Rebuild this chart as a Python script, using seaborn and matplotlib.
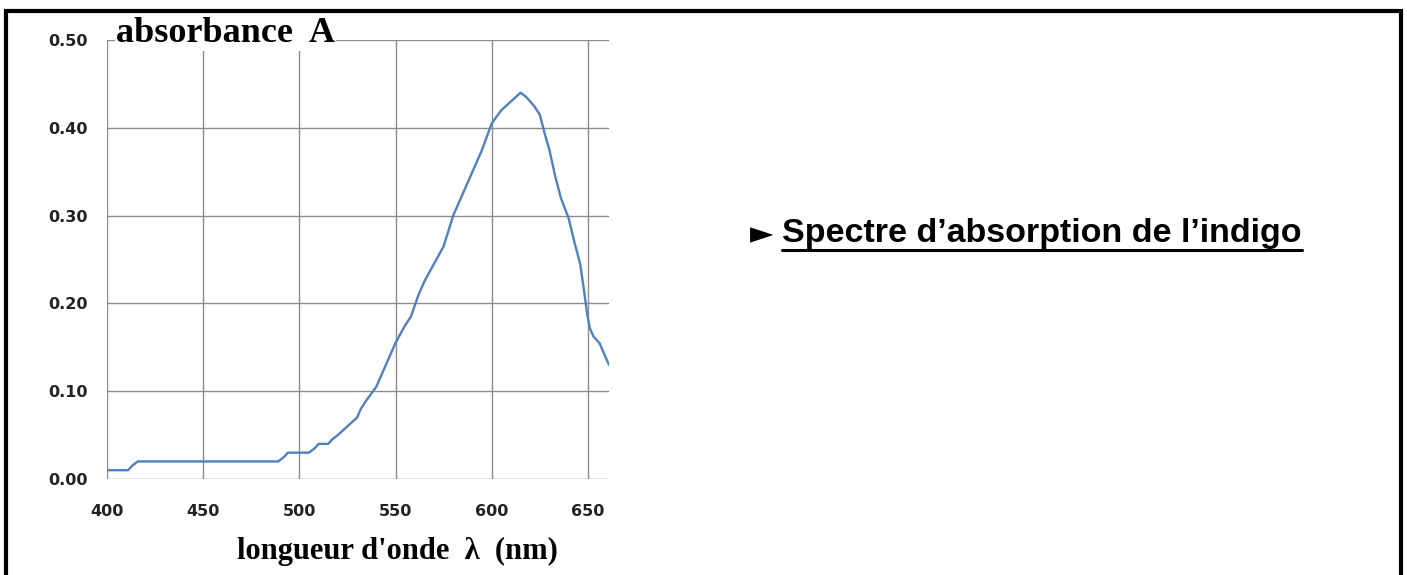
import matplotlib
matplotlib.use("Agg")
import matplotlib.pyplot as plt
import seaborn as sns
import pandas as pd
from matplotlib.patches import Rectangle
from matplotlib.lines import Line2D

# absorption spectrum of indigo
wavelength = [400, 405, 411, 413, 416, 420, 440, 460, 480, 489,
              492, 494, 500, 505, 508, 510, 515, 517, 520, 525,
              530, 532, 535, 540, 543, 546, 550, 555, 558, 562,
              565, 570, 575, 580, 585, 590, 595, 600, 605, 610,
              615, 618, 622, 625, 628, 630, 633, 636, 640, 643,
              646, 648, 649.5, 651, 653, 656, 658, 661]
absorbance = [0.01, 0.01, 0.01, 0.015, 0.02, 0.02, 0.02, 0.02, 0.02, 0.02,
              0.025, 0.03, 0.03, 0.03, 0.035, 0.04, 0.04, 0.045, 0.05, 0.06,
              0.07, 0.08, 0.09, 0.105, 0.12, 0.135, 0.155, 0.175, 0.185, 0.21,
              0.225, 0.245, 0.265, 0.30, 0.325, 0.35, 0.375, 0.405, 0.42, 0.43,
              0.44, 0.435, 0.425, 0.415, 0.39, 0.375, 0.345, 0.32, 0.297, 0.27,
              0.245, 0.215, 0.19, 0.172, 0.162, 0.155, 0.145, 0.13]
x_ticks = [400, 450, 500, 550, 600, 650]
y_ticks = [0.0, 0.1, 0.2, 0.3, 0.4, 0.5]

df = pd.DataFrame({"wl": wavelength, "A": absorbance})

sns.set_style("white")
plt.rcParams["text.color"] = "black"
fig = plt.figure(figsize=(14.07, 5.75), dpi=100)
ax = fig.add_axes([107 / 1407, 96 / 575, (609 - 107) / 1407, (479 - 40) / 575])

sns.lineplot(data=df, x="wl", y="A", ax=ax, color="#4f81bd", linewidth=1.7)

ax.set_xlim(400, 661)
ax.set_ylim(0, 0.5)
ax.set_xticks(x_ticks)
ax.set_yticks(y_ticks)
ax.set_yticklabels([f"{v:.2f}" for v in y_ticks])
ax.grid(True, color="#8c8c8c", linewidth=1.0)
for s in ax.spines.values():
    s.set_visible(False)
ax.tick_params(axis="both", length=6, color="#8c8c8c", direction="out",
               labelsize=11.5, labelcolor="#222222")
ax.tick_params(axis="x", pad=12)
ax.tick_params(axis="y", pad=8)
for lab in ax.get_xticklabels() + ax.get_yticklabels():
    lab.set_fontweight("bold")
ax.set_xlabel("")
ax.set_ylabel("")

# axis titles (serif, like the original scan)
fig.text(116 / 1407, 1 - 42 / 575, "absorbance  A", family="Liberation Serif",
         fontweight="bold", fontsize=26, ha="left", va="baseline",
         bbox=dict(facecolor="white", edgecolor="none", pad=1))
fig.text(237 / 1407, 1 - 559 / 575, "longueur d'onde  λ  (nm)",
         family="Liberation Serif", fontweight="bold", fontsize=22,
         ha="left", va="baseline")

# caption on the right
fig.text(750 / 1407, 1 - 243 / 575, "►", family=["DejaVu Sans"], fontsize=22,
         ha="left", va="baseline")
cap = fig.text(782 / 1407, 1 - 242 / 575, "Spectre d\u2019absorption de l\u2019indigo",
               family=["Liberation Sans", "DejaVu Sans"], fontweight="bold",
               fontsize=24.5, ha="left", va="baseline")
fig.canvas.draw()
bb = cap.get_window_extent().transformed(fig.transFigure.inverted())
uy = 1 - 250 / 575
fig.add_artist(Line2D([bb.x0, bb.x1], [uy, uy], transform=fig.transFigure,
                      color="black", linewidth=2.2))

# outer frame
fig.add_artist(Rectangle((6 / 1407, -0.02), 1395 / 1407, 1.0 - 11 / 575 + 0.02,
                         transform=fig.transFigure, fill=False,
                         edgecolor="black", linewidth=3))

fig.savefig("out.png", dpi=100)
